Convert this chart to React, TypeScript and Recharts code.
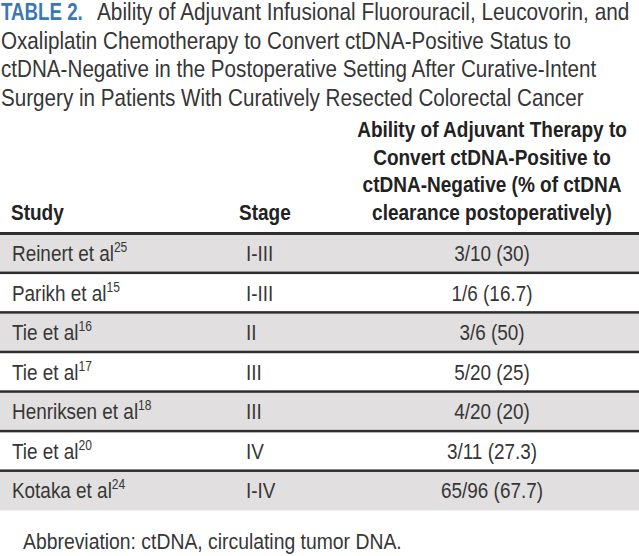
import React from 'react';
import { BarChart, Bar, XAxis, YAxis, LabelList } from 'recharts';

// Table rows
const studies = ['Reinert et al', 'Parikh et al', 'Tie et al', 'Tie et al', 'Henriksen et al', 'Tie et al', 'Kotaka et al'];
const refs = ['25', '15', '16', '17', '18', '20', '24'];
const stages = ['I-III', 'I-III', 'II', 'III', 'III', 'IV', 'I-IV'];
const cleared = [3, 1, 3, 5, 4, 3, 65];
const positives = [10, 6, 6, 20, 20, 11, 96];
const percents = ['30', '16.7', '50', '25', '20', '27.3', '67.7'];

// Text
const titleLabel = 'TABLE 2.';
const titleLines = [
  'Ability of Adjuvant Infusional Fluorouracil, Leucovorin, and',
  'Oxaliplatin Chemotherapy to Convert ctDNA-Positive Status to',
  'ctDNA-Negative in the Postoperative Setting After Curative-Intent',
  'Surgery in Patients With Curatively Resected Colorectal Cancer',
];
const headerLines = [
  'Ability of Adjuvant Therapy to',
  'Convert ctDNA-Positive to',
  'ctDNA-Negative (% of ctDNA',
  'clearance postoperatively)',
];
const colStudy = 'Study';
const colStage = 'Stage';
const footnote = 'Abbreviation: ctDNA, circulating tumor DNA.';

const FONT = '"Liberation Sans", Arial, sans-serif';
const TEXT = '#363636';
const GRAY = '#e1dfe0';
const RULE = '#2e2e2e';

const rows = studies.map((s, i) => ({
  key: `r${i}`,
  band: 1,
  study: s,
  ref: refs[i],
  stage: stages[i],
  result: `${cleared[i]}/${positives[i]} (${percents[i]})`,
}));

// text squeezed horizontally, the source uses a condensed face
const T = ({ x, y, anchor = 'start', size = 22, sx = 0.86, bold = false, fill = TEXT, children }: any) => (
  <text
    transform={`translate(${x},${y}) scale(${sx},1)`}
    textAnchor={anchor}
    fontFamily={FONT}
    fontSize={size}
    fontWeight={bold ? 'bold' : 'normal'}
    fill={fill}
  >
    {children}
  </text>
);

const RowShape = (props: any) => {
  const { x, y, width, height, index } = props;
  const first = index === 0;
  return (
    <g>
      <rect x={x} y={y} width={width} height={height} fill={index % 2 === 0 ? GRAY : '#ffffff'} />
      <rect x={x} y={y - 1} width={width} height={first ? 3 : 2.5} fill={RULE} />
    </g>
  );
};

const StudyLabel = (props: any) => {
  const { x, y, height, index } = props;
  return (
    <T x={x + 12} y={y + height / 2 + 8}>
      {rows[index].study}
      <tspan dy={-9} fontSize={14}>{rows[index].ref}</tspan>
    </T>
  );
};

const StageLabel = (props: any) => {
  const { x, y, height, index } = props;
  return <T x={x + 246} y={y + height / 2 + 8}>{rows[index].stage}</T>;
};

const ResultLabel = (props: any) => {
  const { x, y, height, index } = props;
  return <T x={x + 492} y={y + height / 2 + 8} anchor="middle">{rows[index].result}</T>;
};

export default function App() {
  const titleBase = [20, 49, 77, 106];
  const headBase = [137, 165, 192, 220];
  return (
    <div style={{ position: 'absolute', left: 0, top: 0, width: 639, height: 556, background: '#fff' }}>
      <BarChart
        width={639}
        height={556}
        data={rows}
        layout="vertical"
        margin={{ top: 233, right: 0, bottom: 46, left: 0 }}
        barCategoryGap={0}
      >
        <XAxis type="number" domain={[0, 1]} hide />
        <YAxis type="category" dataKey="key" hide />
        <Bar dataKey="band" shape={RowShape} isAnimationActive={false}>
          <LabelList dataKey="study" content={StudyLabel} />
          <LabelList dataKey="stage" content={StageLabel} />
          <LabelList dataKey="result" content={ResultLabel} />
        </Bar>
      </BarChart>
      <svg width={639} height={556} style={{ position: 'absolute', left: 0, top: 0, pointerEvents: 'none' }}>
        <T x={1} y={titleBase[0]} size={24} sx={0.78} bold fill="#3a78b5">{titleLabel}</T>
        {titleLines.map((t, i) => (
          <T key={i} x={i === 0 ? 97 : 1} y={titleBase[i]} size={24} sx={i === 0 ? 0.866 : 0.86}>
            {t}
          </T>
        ))}
        {headerLines.map((t, i) => (
          <T key={i} x={492} y={headBase[i]} anchor="middle" bold sx={0.865} fill="#222">
            {t}
          </T>
        ))}
        <T x={11} y={220} bold sx={0.865} fill="#222">{colStudy}</T>
        <T x={239} y={220} bold sx={0.865} fill="#222">{colStage}</T>
        <T x={23} y={549} sx={0.88}>{footnote}</T>
      </svg>
    </div>
  );
}
